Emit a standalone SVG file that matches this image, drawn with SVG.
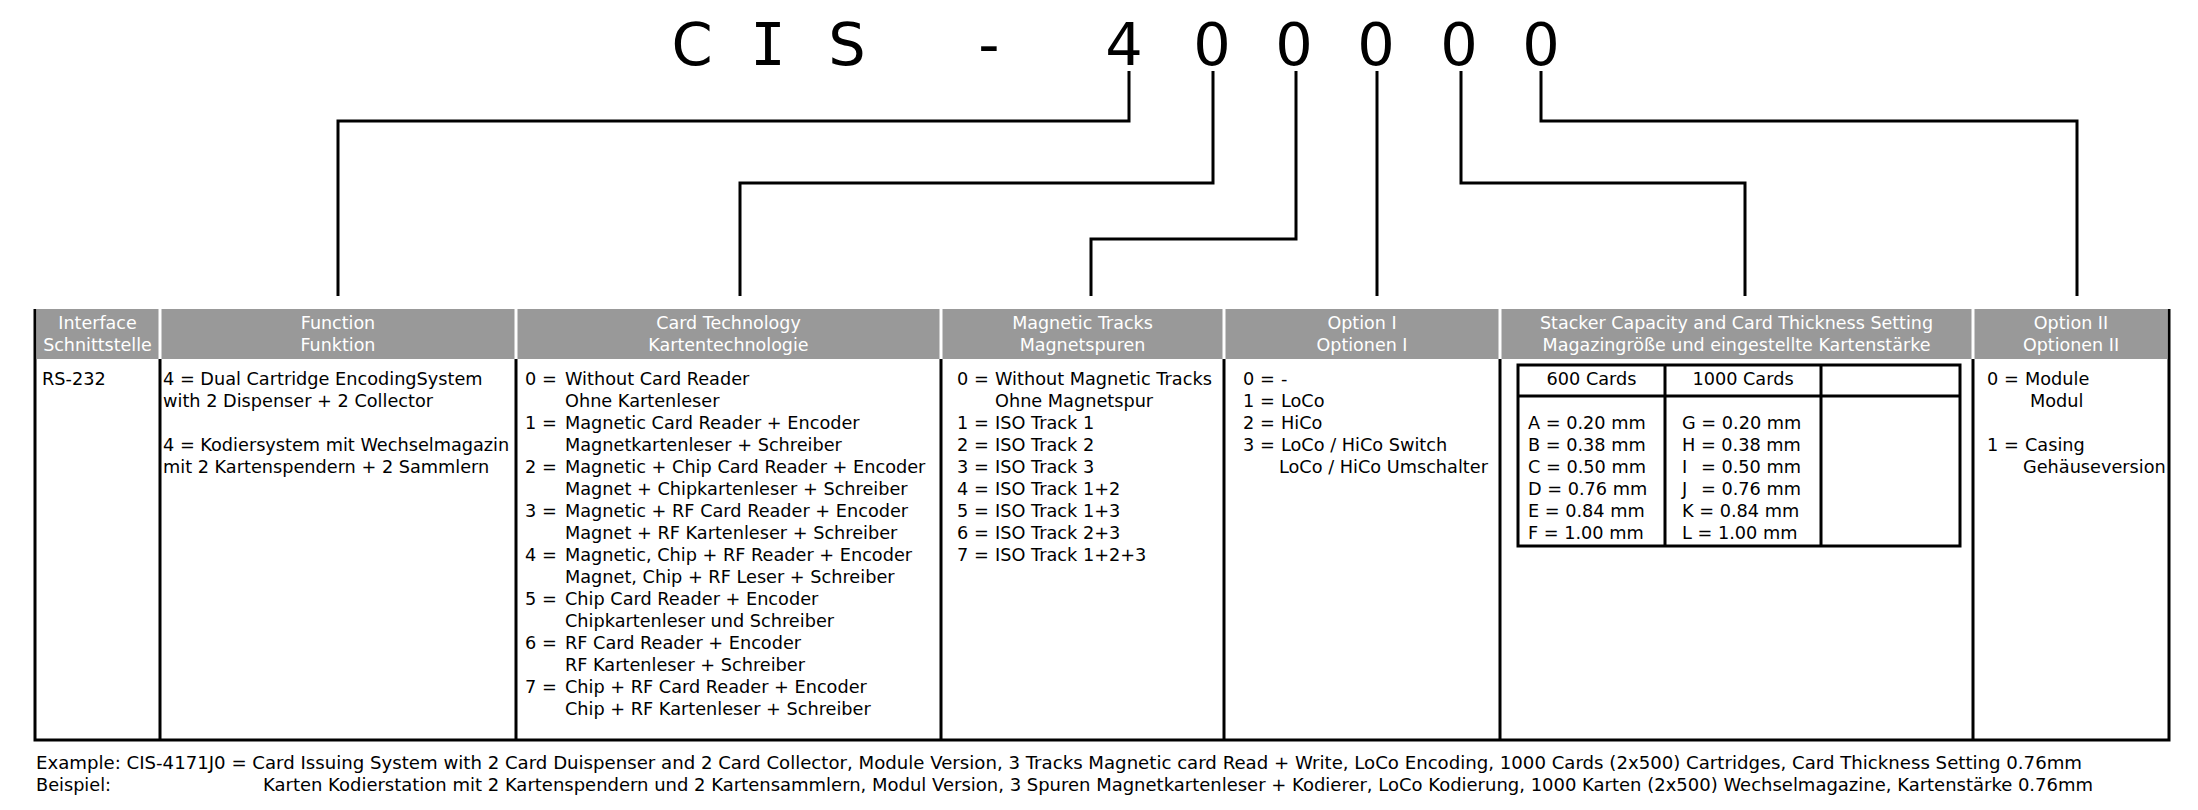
<svg xmlns="http://www.w3.org/2000/svg" width="2198" height="810" viewBox="0 0 2198 810">
<style>
.t{font-family:"DejaVu Sans",Verdana,sans-serif;font-size:17.7px;fill:#000}
.h{font-family:"DejaVu Sans",Verdana,sans-serif;font-size:17.5px;fill:#fff;text-anchor:middle}
.c{text-anchor:middle}
.title{font-family:"DejaVu Sans",sans-serif;font-size:59px;fill:#000;text-anchor:middle}
.ln{stroke:#000;stroke-width:3;fill:none}
.hd{fill:#999}
</style>
<rect width="2198" height="810" fill="#fff"/>

<g id="title">
<text class="title" x="692" y="65">C</text>
<text class="title" x="768" y="65" style="font-family:'DejaVu Sans Mono',monospace">I</text>
<text class="title" x="847" y="65">S</text>
<text class="title" x="989" y="65">-</text>
<text class="title" x="1124" y="65">4</text>
<text class="title" x="1212" y="65">0</text>
<text class="title" x="1294" y="65">0</text>
<text class="title" x="1376" y="65">0</text>
<text class="title" x="1459" y="65">0</text>
<text class="title" x="1541" y="65">0</text>
</g>

<g id="connectors" class="ln">
<path d="M1129,71 V121 H338 V296"/>
<path d="M1213,71 V183 H740 V296"/>
<path d="M1296,71 V239 H1091 V296"/>
<path d="M1377,71 V296"/>
<path d="M1461,71 V183 H1745 V296"/>
<path d="M1541,71 V121 H2077 V296"/>
</g>

<g id="table-frame">
<path class="ln" d="M35,309 V740 M2169,309 V740 M33.5,740 H2170.5"/>
<path class="ln" d="M160,359 V740 M516,359 V740 M941,359 V740 M1224,359 V740 M1500,359 V740 M1973,359 V740"/>
</g>

<g id="col-interface">
<rect class="hd" x="36.5" y="309" width="122" height="50"/>
<text class="h" x="97.5" y="329">Interface</text>
<text class="h" x="97.5" y="351">Schnittstelle</text>
<text class="t" x="42" y="385">RS-232</text>
</g>

<g id="col-function">
<rect class="hd" x="161.5" y="309" width="353" height="50"/>
<text class="h" x="338" y="329">Function</text>
<text class="h" x="338" y="351">Funktion</text>
<text class="t" x="163" y="385">4 = Dual Cartridge EncodingSystem</text>
<text class="t" x="163" y="407">with 2 Dispenser + 2 Collector</text>
<text class="t" x="163" y="451">4 = Kodiersystem mit Wechselmagazin</text>
<text class="t" x="163" y="473">mit 2 Kartenspendern + 2 Sammlern</text>
</g>

<g id="col-card-technology">
<rect class="hd" x="517.5" y="309" width="422" height="50"/>
<text class="h" x="728.5" y="329">Card Technology</text>
<text class="h" x="728.5" y="351">Kartentechnologie</text>
<text class="t" x="525" y="385">0 =</text><text class="t" x="565" y="385">Without Card Reader</text>
<text class="t" x="565" y="407">Ohne Kartenleser</text>
<text class="t" x="525" y="429">1 =</text><text class="t" x="565" y="429">Magnetic Card Reader + Encoder</text>
<text class="t" x="565" y="451">Magnetkartenleser + Schreiber</text>
<text class="t" x="525" y="473">2 =</text><text class="t" x="565" y="473">Magnetic + Chip Card Reader + Encoder</text>
<text class="t" x="565" y="495">Magnet + Chipkartenleser + Schreiber</text>
<text class="t" x="525" y="517">3 =</text><text class="t" x="565" y="517">Magnetic + RF Card Reader + Encoder</text>
<text class="t" x="565" y="539">Magnet + RF Kartenleser + Schreiber</text>
<text class="t" x="525" y="561">4 =</text><text class="t" x="565" y="561">Magnetic, Chip + RF Reader + Encoder</text>
<text class="t" x="565" y="583">Magnet, Chip + RF Leser + Schreiber</text>
<text class="t" x="525" y="605">5 =</text><text class="t" x="565" y="605">Chip Card Reader + Encoder</text>
<text class="t" x="565" y="627">Chipkartenleser und Schreiber</text>
<text class="t" x="525" y="649">6 =</text><text class="t" x="565" y="649">RF Card Reader + Encoder</text>
<text class="t" x="565" y="671">RF Kartenleser + Schreiber</text>
<text class="t" x="525" y="693">7 =</text><text class="t" x="565" y="693">Chip + RF Card Reader + Encoder</text>
<text class="t" x="565" y="715">Chip + RF Kartenleser + Schreiber</text>
</g>

<g id="col-magnetic-tracks">
<rect class="hd" x="942.5" y="309" width="280" height="50"/>
<text class="h" x="1082.5" y="329">Magnetic Tracks</text>
<text class="h" x="1082.5" y="351">Magnetspuren</text>
<text class="t" x="957" y="385">0 =</text><text class="t" x="995" y="385">Without Magnetic Tracks</text>
<text class="t" x="995" y="407">Ohne Magnetspur</text>
<text class="t" x="957" y="429">1 =</text><text class="t" x="995" y="429">ISO Track 1</text>
<text class="t" x="957" y="451">2 =</text><text class="t" x="995" y="451">ISO Track 2</text>
<text class="t" x="957" y="473">3 =</text><text class="t" x="995" y="473">ISO Track 3</text>
<text class="t" x="957" y="495">4 =</text><text class="t" x="995" y="495">ISO Track 1+2</text>
<text class="t" x="957" y="517">5 =</text><text class="t" x="995" y="517">ISO Track 1+3</text>
<text class="t" x="957" y="539">6 =</text><text class="t" x="995" y="539">ISO Track 2+3</text>
<text class="t" x="957" y="561">7 =</text><text class="t" x="995" y="561">ISO Track 1+2+3</text>
</g>

<g id="col-option-1">
<rect class="hd" x="1225.5" y="309" width="273" height="50"/>
<text class="h" x="1362" y="329">Option I</text>
<text class="h" x="1362" y="351">Optionen I</text>
<text class="t" x="1243" y="385">0 =</text><text class="t" x="1281" y="385">-</text>
<text class="t" x="1243" y="407">1 =</text><text class="t" x="1281" y="407">LoCo</text>
<text class="t" x="1243" y="429">2 =</text><text class="t" x="1281" y="429">HiCo</text>
<text class="t" x="1243" y="451">3 =</text><text class="t" x="1281" y="451">LoCo / HiCo Switch</text>
<text class="t" x="1279" y="473">LoCo / HiCo Umschalter</text>
</g>

<g id="col-stacker">
<rect class="hd" x="1501.5" y="309" width="470" height="50"/>
<text class="h" x="1736.5" y="329">Stacker Capacity and Card Thickness Setting</text>
<text class="h" x="1736.5" y="351">Magazingröße und eingestellte Kartenstärke</text>
<g class="ln">
<rect x="1518" y="365" width="442" height="181"/>
<path d="M1518,396 H1960 M1665,365 V546 M1821,365 V546"/>
</g>
<text class="t c" x="1591.5" y="385">600 Cards</text>
<text class="t c" x="1743" y="385">1000 Cards</text>
<text class="t" x="1528" y="429">A = 0.20 mm</text>
<text class="t" x="1528" y="451">B = 0.38 mm</text>
<text class="t" x="1528" y="473">C = 0.50 mm</text>
<text class="t" x="1528" y="495">D = 0.76 mm</text>
<text class="t" x="1528" y="517">E = 0.84 mm</text>
<text class="t" x="1528" y="539">F = 1.00 mm</text>
<text class="t" x="1682" y="429">G = 0.20 mm</text>
<text class="t" x="1682" y="451">H = 0.38 mm</text>
<text class="t" x="1682" y="473">I</text><text class="t" x="1701" y="473">= 0.50 mm</text>
<text class="t" x="1682" y="495">J</text><text class="t" x="1701" y="495">= 0.76 mm</text>
<text class="t" x="1682" y="517">K = 0.84 mm</text>
<text class="t" x="1682" y="539">L = 1.00 mm</text>
</g>

<g id="col-option-2">
<rect class="hd" x="1974.5" y="309" width="193" height="50"/>
<text class="h" x="2071" y="329">Option II</text>
<text class="h" x="2071" y="351">Optionen II</text>
<text class="t" x="1987" y="385">0 =</text><text class="t" x="2025" y="385">Module</text>
<text class="t" x="2030" y="407">Modul</text>
<text class="t" x="1987" y="451">1 =</text><text class="t" x="2025" y="451">Casing</text>
<text class="t" x="2023" y="473">Gehäuseversion</text>
</g>

<g id="example">
<text class="t" x="36" y="769" textLength="2046" lengthAdjust="spacingAndGlyphs">Example: CIS-4171J0 = Card Issuing System with 2 Card Duispenser and 2 Card Collector, Module Version, 3 Tracks Magnetic card Read + Write, LoCo Encoding, 1000 Cards (2x500) Cartridges, Card Thickness Setting 0.76mm</text>
<text class="t" x="36" y="791">Beispiel:</text>
<text class="t" x="263" y="791" textLength="1830" lengthAdjust="spacingAndGlyphs">Karten Kodierstation mit 2 Kartenspendern und 2 Kartensammlern, Modul Version, 3 Spuren Magnetkartenleser + Kodierer, LoCo Kodierung, 1000 Karten (2x500) Wechselmagazine, Kartenstärke 0.76mm</text>
</g>
</svg>
